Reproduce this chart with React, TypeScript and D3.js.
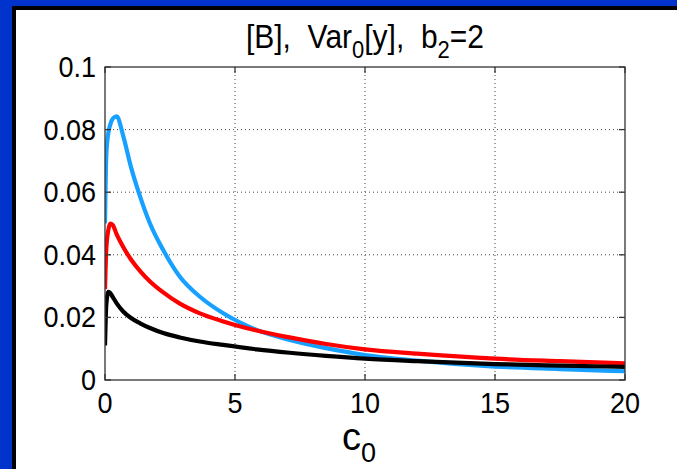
import React from "react";
import * as d3 from "d3";

// Sampled c0 positions and the three variance curves
const c0Values = [0, 0.05, 0.13, 0.2, 0.3, 0.45, 0.7, 1.0, 1.35, 1.73, 2.24, 2.88, 3.65, 4.55, 5.83, 7.1, 8.5, 10, 12, 15, 17.5, 20];
const blueValues = [0.05, 0.072, 0.079, 0.0815, 0.0835, 0.0842, 0.078, 0.068, 0.0586, 0.05, 0.0415, 0.033, 0.0266, 0.0213, 0.016, 0.0128, 0.0102, 0.008, 0.0062, 0.0043, 0.0035, 0.0028];
const redValues = [0.029, 0.042, 0.048, 0.05, 0.0495, 0.0465, 0.0425, 0.0385, 0.0348, 0.0315, 0.028, 0.0244, 0.0213, 0.0187, 0.0158, 0.0136, 0.0115, 0.0098, 0.0084, 0.0068, 0.006, 0.0053];
const blackValues = [0.011, 0.024, 0.0282, 0.0278, 0.0265, 0.0245, 0.0219, 0.0198, 0.0181, 0.0166, 0.015, 0.0136, 0.0123, 0.0112, 0.0098, 0.0087, 0.0077, 0.0068, 0.006, 0.0051, 0.0046, 0.0042];

const xTicks = [0, 5, 10, 15, 20];
const yTicks = [0, 0.02, 0.04, 0.06, 0.08, 0.1];
const yTickLabels = ["0", "0.02", "0.04", "0.06", "0.08", "0.1"];

const W = 677;
const H = 469;
const plot = { left: 105, right: 625, top: 67, bottom: 380 };
const FONT = "'Liberation Sans', Arial, Helvetica, sans-serif";

export default function App() {
  const x = d3.scaleLinear().domain([0, 20]).range([plot.left, plot.right]);
  const y = d3.scaleLinear().domain([0, 0.1]).range([plot.bottom, plot.top]);

  const line = d3
    .line<[number, number]>()
    .x((d) => x(d[0]))
    .y((d) => y(d[1]))
    .curve(d3.curveMonotoneX);

  const series = [
    { values: blueValues, color: "#17a0ff" },
    { values: redValues, color: "#ff0000" },
    { values: blackValues, color: "#000000" },
  ];

  const tickLen = 6;

  return (
    <svg
      width={W}
      height={H}
      style={{ position: "absolute", left: 0, top: 0, display: "block" }}
      fontFamily={FONT}
    >
      {/* blue frame, black inner border, white figure */}
      <rect x={0} y={0} width={W} height={H} fill="#0033cc" />
      <rect x={12} y={6} width={W - 12} height={H - 6} fill="#000000" />
      <rect x={16} y={10} width={W - 16} height={H - 10} fill="#ffffff" />

      {/* dotted grid */}
      {xTicks.slice(1, -1).map((t) => (
        <line key={`gx${t}`} x1={x(t)} x2={x(t)} y1={plot.top} y2={plot.bottom}
          stroke="#444" strokeWidth={1} strokeDasharray="1 3" />
      ))}
      {yTicks.slice(1, -1).map((t) => (
        <line key={`gy${t}`} x1={plot.left} x2={plot.right} y1={y(t)} y2={y(t)}
          stroke="#444" strokeWidth={1} strokeDasharray="1 3" />
      ))}

      {/* curves */}
      <defs>
        <clipPath id="plotClip">
          <rect x={plot.left} y={plot.top - 2} width={plot.right - plot.left} height={plot.bottom - plot.top + 2} />
        </clipPath>
      </defs>
      <g clipPath="url(#plotClip)">
        {series.map((s, i) => (
          <path key={i}
            d={line(c0Values.map((c, j) => [c, s.values[j]] as [number, number])) || ""}
            fill="none" stroke={s.color} strokeWidth={4.2} strokeLinejoin="round" />
        ))}
      </g>

      {/* axes box */}
      <rect x={plot.left} y={plot.top} width={plot.right - plot.left} height={plot.bottom - plot.top}
        fill="none" stroke="#333" strokeWidth={1.3} />

      {/* inward ticks on all sides */}
      {xTicks.map((t) => (
        <g key={`tx${t}`} stroke="#333" strokeWidth={1.3}>
          <line x1={x(t)} x2={x(t)} y1={plot.bottom} y2={plot.bottom - tickLen} />
          <line x1={x(t)} x2={x(t)} y1={plot.top} y2={plot.top + tickLen} />
        </g>
      ))}
      {yTicks.map((t) => (
        <g key={`ty${t}`} stroke="#333" strokeWidth={1.3}>
          <line x1={plot.left} x2={plot.left + tickLen} y1={y(t)} y2={y(t)} />
          <line x1={plot.right} x2={plot.right - tickLen} y1={y(t)} y2={y(t)} />
        </g>
      ))}

      {/* tick labels */}
      {xTicks.map((t) => (
        <g key={`lx${t}`} transform={`translate(${x(t)},413) scale(1,1.08)`}>
          <text x={0} y={0} textAnchor="middle" fontSize={27} fill="#000">{t}</text>
        </g>
      ))}
      {yTicks.map((t, i) => (
        <g key={`ly${t}`} transform={`translate(96,${y(t) + 10}) scale(1,1.08)`}>
          <text x={0} y={0} textAnchor="end" fontSize={27} fill="#000">{yTickLabels[i]}</text>
        </g>
      ))}

      {/* title */}
      <g transform={`translate(${(plot.left + plot.right) / 2},48) scale(1,1.1)`}>
        <text x={0} y={0} textAnchor="middle" fontSize={30} fill="#000" style={{ whiteSpace: "pre" }}>
          <tspan>{"[B],  Var"}</tspan>
          <tspan fontSize={22} dy={9}>0</tspan>
          <tspan dy={-9}>{"[y],  b"}</tspan>
          <tspan fontSize={22} dy={9}>2</tspan>
          <tspan dy={-9}>=2</tspan>
        </text>
      </g>

      {/* x-axis label */}
      <text x={359} y={450} textAnchor="middle" fontSize={38} fill="#000">
        <tspan>c</tspan>
        <tspan fontSize={27} dy={12}>0</tspan>
      </text>
    </svg>
  );
}
